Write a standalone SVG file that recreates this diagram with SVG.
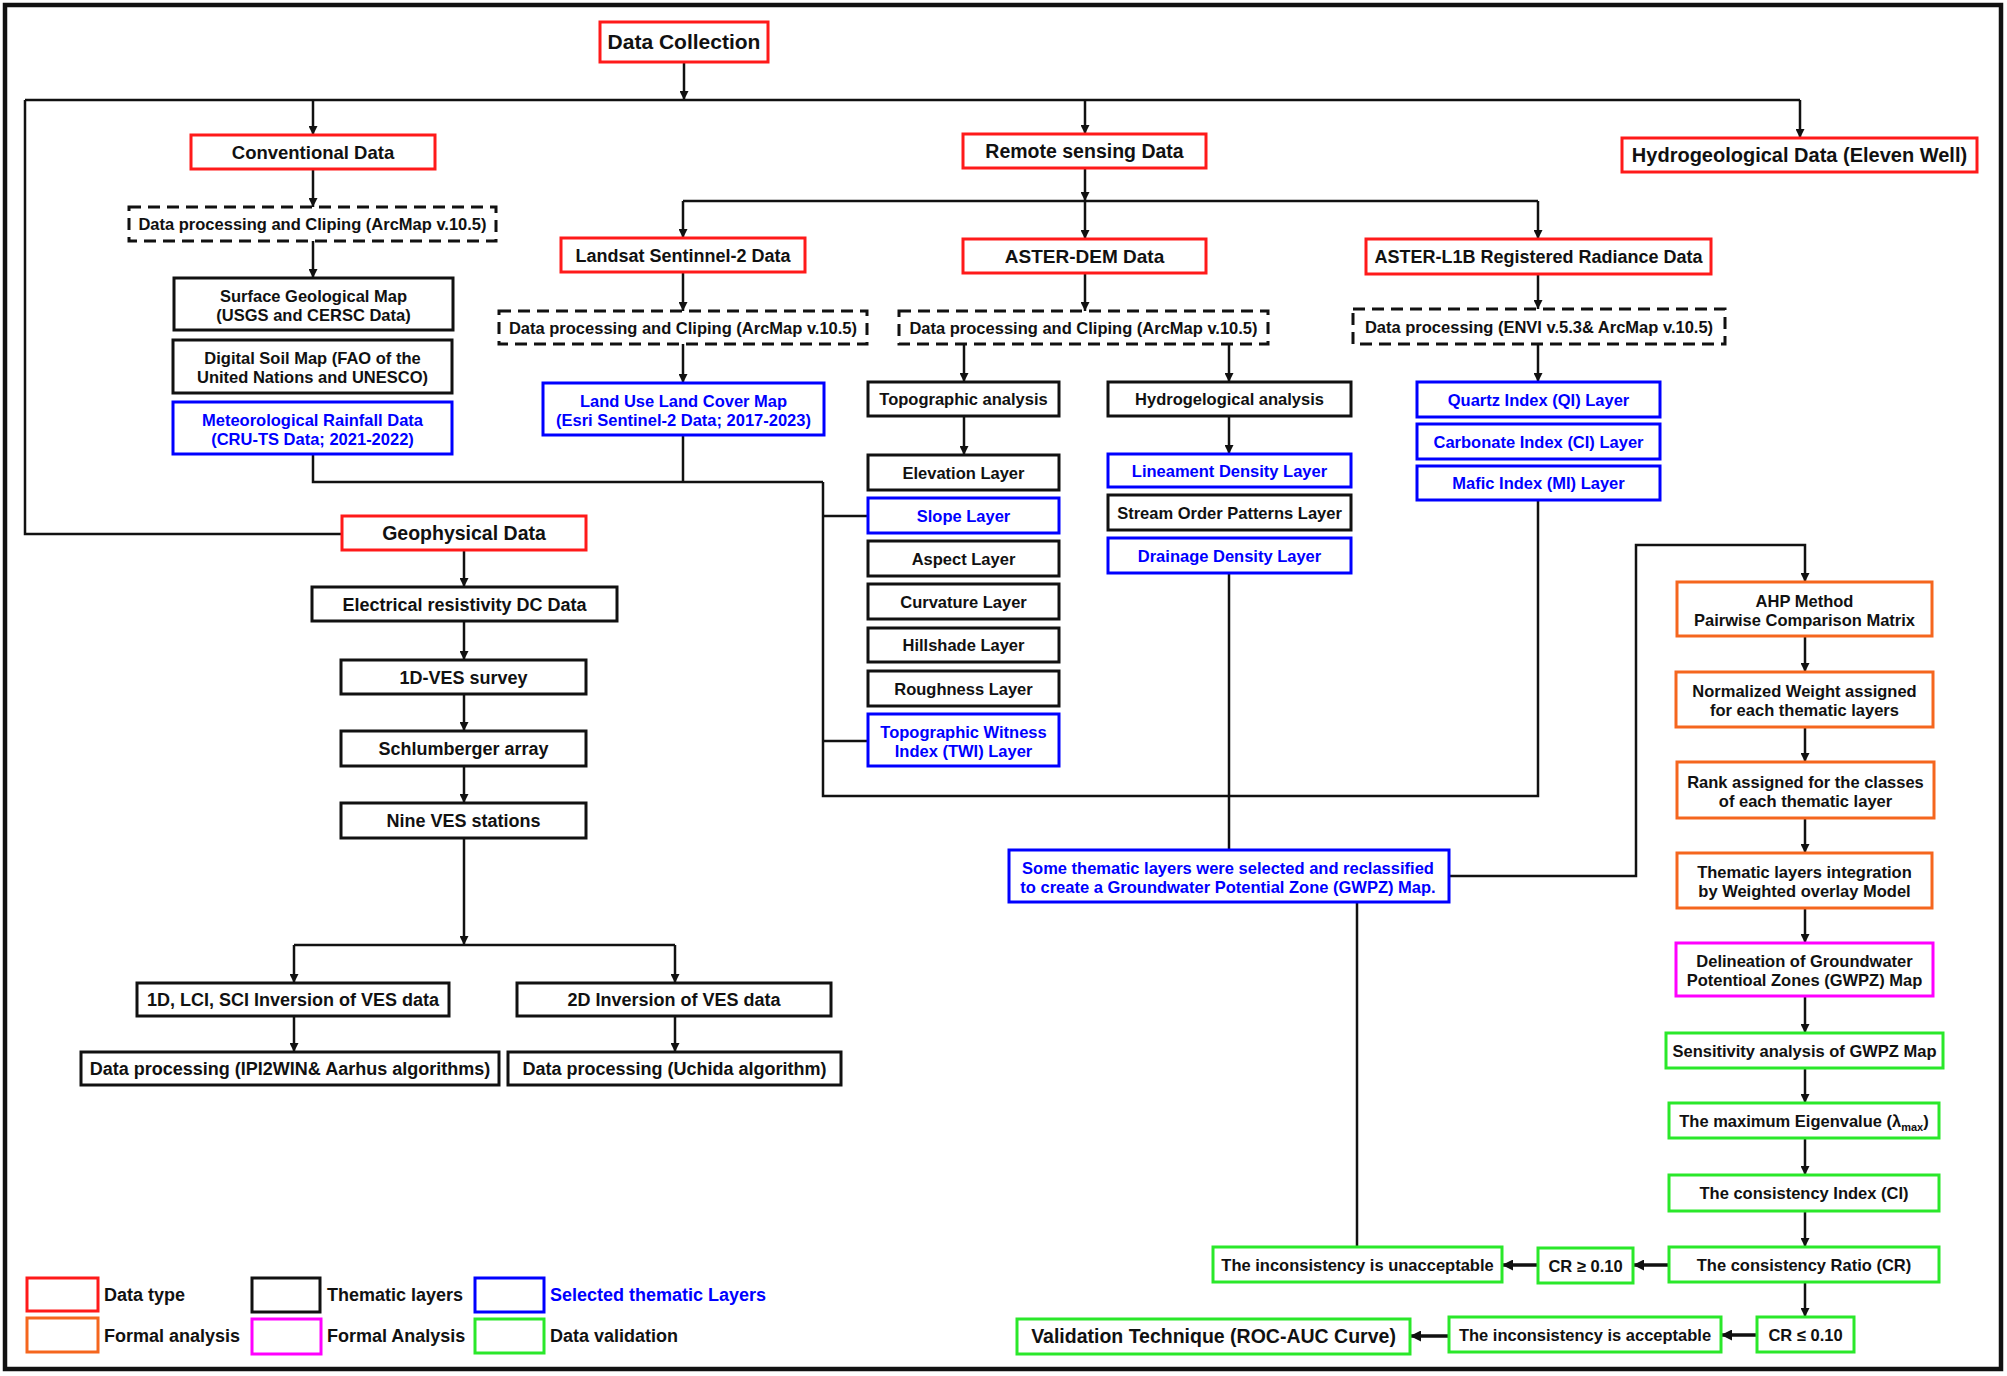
<svg xmlns="http://www.w3.org/2000/svg" width="2007" height="1376" viewBox="0 0 2007 1376">
<defs>
<style>
rect{fill:#fff;stroke-width:3}
.red{stroke:#ff1a1a}
.blk{stroke:#111}
.blu{stroke:#0000ff}
.org{stroke:#f5661e}
.mag{stroke:#ff00ff}
.grn{stroke:#2ae82a}
.dsh{stroke:#111;stroke-dasharray:12 7}
text{font-family:"Liberation Sans",Arial,sans-serif;font-weight:bold;text-anchor:middle;fill:#111;font-size:16.5px}
.tb{fill:#0000ff}
.lg{text-anchor:start;font-size:18px}
.f18{font-size:18px}
#connectors path{fill:none;stroke:#111;stroke-width:2.5}
#connectors path.thk{stroke-width:3.5}
</style>
<marker id="ah" viewBox="0 0 10 10" refX="10" refY="5" markerWidth="10" markerHeight="9" markerUnits="userSpaceOnUse" orient="auto"><path d="M0,0 L10,5 L0,10 z" fill="#111"/></marker>
<marker id="ah2" viewBox="0 0 10 10" refX="10" refY="5" markerWidth="12" markerHeight="11" markerUnits="userSpaceOnUse" orient="auto"><path d="M0,0 L10,5 L0,10 z" fill="#111"/></marker>
</defs>
<rect x="0" y="0" width="2007" height="1376" style="fill:#fff;stroke:none"/>
<rect x="5" y="5" width="1996" height="1364" style="fill:none;stroke:#111;stroke-width:4.5"/>

<g id="connectors">
<path d="M684,62 V100" marker-end="url(#ah)"/>
<path d="M25,100 H1800"/>
<path d="M25,100 V534 H342"/>
<path d="M313,100 V135" marker-end="url(#ah)"/>
<path d="M1085,100 V134" marker-end="url(#ah)"/>
<path d="M1800,100 V138" marker-end="url(#ah)"/>
<path d="M313,169 V207" marker-end="url(#ah)"/>
<path d="M313,241 V278" marker-end="url(#ah)"/>
<path d="M1085,168 V201" marker-end="url(#ah)"/>
<path d="M683,201 H1538"/>
<path d="M683,201 V238" marker-end="url(#ah)"/>
<path d="M1085,201 V239" marker-end="url(#ah)"/>
<path d="M1538,201 V239" marker-end="url(#ah)"/>
<path d="M683,272 V311" marker-end="url(#ah)"/>
<path d="M1085,273 V311" marker-end="url(#ah)"/>
<path d="M1538,274 V309" marker-end="url(#ah)"/>
<path d="M683,344 V383" marker-end="url(#ah)"/>
<path d="M964,344 V382" marker-end="url(#ah)"/>
<path d="M1229,344 V382" marker-end="url(#ah)"/>
<path d="M1538,344 V382" marker-end="url(#ah)"/>
<path d="M964,416 V455" marker-end="url(#ah)"/>
<path d="M1229,416 V454" marker-end="url(#ah)"/>
<path d="M313,454 V482 H823"/>
<path d="M683,435 V482"/>
<path d="M823,482 V796 H1538 V500"/>
<path d="M823,516 H868"/>
<path d="M823,741 H868"/>
<path d="M1229,573 V850"/>
<path d="M1449,876 H1636 V545 H1805 V582" marker-end="url(#ah)"/>
<path d="M1357,902 V1247"/>
<path d="M1805,636 V672" marker-end="url(#ah)"/>
<path d="M1805,727 V762" marker-end="url(#ah)"/>
<path d="M1805,818 V853" marker-end="url(#ah)"/>
<path d="M1805,908 V943" marker-end="url(#ah)"/>
<path d="M1805,996 V1033" marker-end="url(#ah)"/>
<path d="M1805,1068 V1103" marker-end="url(#ah)"/>
<path d="M1805,1138 V1175" marker-end="url(#ah)"/>
<path d="M1805,1211 V1247" marker-end="url(#ah)"/>
<path d="M1805,1282 V1317" marker-end="url(#ah)"/>
<path class="thk" d="M1669,1265 H1633" marker-end="url(#ah2)"/>
<path class="thk" d="M1538,1265 H1502" marker-end="url(#ah2)"/>
<path class="thk" d="M1757,1335 H1721" marker-end="url(#ah2)"/>
<path class="thk" d="M1449,1336 H1410" marker-end="url(#ah2)"/>
<path d="M464,550 V587" marker-end="url(#ah)"/>
<path d="M464,621 V660" marker-end="url(#ah)"/>
<path d="M464,694 V731" marker-end="url(#ah)"/>
<path d="M464,766 V803" marker-end="url(#ah)"/>
<path d="M464,838 V945" marker-end="url(#ah)"/>
<path d="M294,945 H675"/>
<path d="M294,945 V983" marker-end="url(#ah)"/>
<path d="M675,945 V983" marker-end="url(#ah)"/>
<path d="M294,1016 V1052" marker-end="url(#ah)"/>
<path d="M675,1016 V1052" marker-end="url(#ah)"/>
</g>

<g id="n-dc"><rect class="red" x="600" y="22" width="168" height="40"/><text x="684" y="49" style="font-size:21px">Data Collection</text></g>
<g id="n-conv"><rect class="red" x="191" y="135" width="244" height="34"/><text x="313" y="158.5" style="font-size:18.5px">Conventional Data</text></g>
<g id="n-rs"><rect class="red" x="963" y="134" width="243" height="34"/><text x="1084.5" y="158" style="font-size:19.5px">Remote sensing Data</text></g>
<g id="n-hydro"><rect class="red" x="1622" y="138" width="355" height="34"/><text x="1799.5" y="162" style="font-size:20px">Hydrogeological Data (Eleven Well)</text></g>
<g id="n-convdp"><rect class="dsh" x="129" y="207" width="367" height="34"/><text x="312.5" y="230">Data processing and Cliping (ArcMap v.10.5)</text></g>
<g id="n-surface"><rect class="blk" x="174" y="278" width="279" height="52"/><text x="313.5" y="301.5">Surface Geological Map</text><text x="313.5" y="320.5">(USGS and CERSC Data)</text></g>
<g id="n-soil"><rect class="blk" x="173" y="340" width="279" height="53"/><text x="312.5" y="364">Digital Soil Map (FAO of the</text><text x="312.5" y="383">United Nations and UNESCO)</text></g>
<g id="n-rain"><rect class="blu" x="173" y="402" width="279" height="52"/><text class="tb" x="312.5" y="425.5">Meteorological Rainfall Data</text><text class="tb" x="312.5" y="444.5">(CRU-TS Data; 2021-2022)</text></g>
<g id="n-landsat"><rect class="red" x="561" y="238" width="244" height="34"/><text class="f18" x="683" y="261.5">Landsat Sentinnel-2 Data</text></g>
<g id="n-dem"><rect class="red" x="963" y="239" width="243" height="34"/><text x="1084.5" y="262.5" style="font-size:19px">ASTER-DEM Data</text></g>
<g id="n-l1b"><rect class="red" x="1366" y="239" width="345" height="35"/><text class="f18" x="1538.5" y="263">ASTER-L1B Registered Radiance Data</text></g>
<g id="n-landsatdp"><rect class="dsh" x="499" y="311" width="368" height="33"/><text x="683" y="333.5">Data processing and Cliping (ArcMap v.10.5)</text></g>
<g id="n-demdp"><rect class="dsh" x="899" y="311" width="369" height="33"/><text x="1083.5" y="333.5">Data processing and Cliping (ArcMap v.10.5)</text></g>
<g id="n-l1bdp"><rect class="dsh" x="1353" y="309" width="372" height="35"/><text x="1539" y="332.5">Data processing (ENVI v.5.3&amp; ArcMap v.10.5)</text></g>
<g id="n-lulc"><rect class="blu" x="543" y="383" width="281" height="52"/><text class="tb" x="683.5" y="406.5">Land Use Land Cover Map</text><text class="tb" x="683.5" y="425.5">(Esri Sentinel-2 Data; 2017-2023)</text></g>
<g id="n-topo"><rect class="blk" x="868" y="382" width="191" height="34"/><text x="963.5" y="405">Topographic analysis</text></g>
<g id="n-hydroan"><rect class="blk" x="1108" y="382" width="243" height="34"/><text x="1229.5" y="405">Hydrogelogical analysis</text></g>
<g id="n-quartz"><rect class="blu" x="1417" y="382" width="243" height="35"/><text class="tb" x="1538.5" y="405.5">Quartz Index (QI) Layer</text></g>
<g id="n-carb"><rect class="blu" x="1417" y="424" width="243" height="35"/><text class="tb" x="1538.5" y="447.5">Carbonate Index (CI) Layer</text></g>
<g id="n-mafic"><rect class="blu" x="1417" y="466" width="243" height="34"/><text class="tb" x="1538.5" y="489">Mafic Index (MI) Layer</text></g>
<g id="n-elev"><rect class="blk" x="868" y="455" width="191" height="35"/><text x="963.5" y="478.5">Elevation Layer</text></g>
<g id="n-slope"><rect class="blu" x="868" y="498" width="191" height="35"/><text class="tb" x="963.5" y="521.5">Slope Layer</text></g>
<g id="n-aspect"><rect class="blk" x="868" y="541" width="191" height="35"/><text x="963.5" y="564.5">Aspect Layer</text></g>
<g id="n-curv"><rect class="blk" x="868" y="584" width="191" height="35"/><text x="963.5" y="607.5">Curvature Layer</text></g>
<g id="n-hill"><rect class="blk" x="868" y="628" width="191" height="34"/><text x="963.5" y="651">Hillshade Layer</text></g>
<g id="n-rough"><rect class="blk" x="868" y="671" width="191" height="35"/><text x="963.5" y="694.5">Roughness Layer</text></g>
<g id="n-twi"><rect class="blu" x="868" y="714" width="191" height="52"/><text class="tb" x="963.5" y="737.5">Topographic Witness</text><text class="tb" x="963.5" y="756.5">Index (TWI) Layer</text></g>
<g id="n-linea"><rect class="blu" x="1108" y="454" width="243" height="33"/><text class="tb" x="1229.5" y="476.5">Lineament Density Layer</text></g>
<g id="n-stream"><rect class="blk" x="1108" y="495" width="243" height="35"/><text x="1229.5" y="518.5">Stream Order Patterns Layer</text></g>
<g id="n-drain"><rect class="blu" x="1108" y="538" width="243" height="35"/><text class="tb" x="1229.5" y="561.5">Drainage Density Layer</text></g>
<g id="n-some"><rect class="blu" x="1009" y="850" width="440" height="52"/><text class="tb" x="1228" y="873.5">Some thematic layers were selected and reclassified</text><text class="tb" x="1228" y="892.5">to create a Groundwater Potential Zone (GWPZ) Map.</text></g>
<g id="n-ahp"><rect class="org" x="1677" y="582" width="255" height="54"/><text x="1804.5" y="606.5">AHP Method</text><text x="1804.5" y="625.5">Pairwise Comparison Matrix</text></g>
<g id="n-norm"><rect class="org" x="1676" y="672" width="257" height="55"/><text x="1804.5" y="697">Normalized Weight assigned</text><text x="1804.5" y="716">for each thematic layers</text></g>
<g id="n-rank"><rect class="org" x="1677" y="762" width="257" height="56"/><text x="1805.5" y="787.5">Rank assigned for the classes</text><text x="1805.5" y="806.5">of each thematic layer</text></g>
<g id="n-integ"><rect class="org" x="1677" y="853" width="255" height="55"/><text x="1804.5" y="878">Thematic layers integration</text><text x="1804.5" y="897">by Weighted overlay Model</text></g>
<g id="n-delin"><rect class="mag" x="1676" y="943" width="257" height="53"/><text x="1804.5" y="967">Delineation of Groundwater</text><text x="1804.5" y="986">Potentioal Zones (GWPZ) Map</text></g>
<g id="n-sens"><rect class="grn" x="1666" y="1033" width="277" height="35"/><text x="1804.5" y="1056.5">Sensitivity analysis of GWPZ Map</text></g>
<g id="n-eigen"><rect class="grn" x="1669" y="1103" width="270" height="35"/><text x="1804" y="1126.5">The maximum Eigenvalue (λ<tspan dy="4" style="font-size:11px">max</tspan><tspan dy="-4">)</tspan></text></g>
<g id="n-ci"><rect class="grn" x="1669" y="1175" width="270" height="36"/><text x="1804" y="1199">The consistency Index (CI)</text></g>
<g id="n-cr"><rect class="grn" x="1669" y="1247" width="270" height="35"/><text x="1804" y="1270.5">The consistency Ratio (CR)</text></g>
<g id="n-crge"><rect class="grn" x="1538" y="1248" width="95" height="35"/><text x="1585.5" y="1271.5">CR ≥ 0.10</text></g>
<g id="n-unacc"><rect class="grn" x="1213" y="1247" width="289" height="35"/><text x="1357.5" y="1270.5">The inconsistency is unacceptable</text></g>
<g id="n-crle"><rect class="grn" x="1757" y="1317" width="97" height="35"/><text x="1805.5" y="1340.5">CR ≤ 0.10</text></g>
<g id="n-acc"><rect class="grn" x="1449" y="1317" width="272" height="35"/><text x="1585" y="1340.5">The inconsistency is acceptable</text></g>
<g id="n-valid"><rect class="grn" x="1017" y="1319" width="393" height="35"/><text x="1213.5" y="1343" style="font-size:19.5px">Validation Technique (ROC-AUC Curve)</text></g>
<g id="n-geo"><rect class="red" x="342" y="516" width="244" height="34"/><text x="464" y="540" style="font-size:19.5px">Geophysical Data</text></g>
<g id="n-elec"><rect class="blk" x="312" y="587" width="305" height="34"/><text class="f18" x="464.5" y="610.5">Electrical resistivity DC Data</text></g>
<g id="n-ves1d"><rect class="blk" x="341" y="660" width="245" height="34"/><text class="f18" x="463.5" y="683.5">1D-VES survey</text></g>
<g id="n-schl"><rect class="blk" x="341" y="731" width="245" height="35"/><text class="f18" x="463.5" y="755">Schlumberger array</text></g>
<g id="n-nine"><rect class="blk" x="341" y="803" width="245" height="35"/><text class="f18" x="463.5" y="827">Nine VES stations</text></g>
<g id="n-inv1d"><rect class="blk" x="137" y="983" width="312" height="33"/><text class="f18" x="293" y="1006">1D, LCI, SCI Inversion of VES data</text></g>
<g id="n-inv2d"><rect class="blk" x="517" y="983" width="314" height="33"/><text class="f18" x="674" y="1006">2D Inversion of VES data</text></g>
<g id="n-dp1"><rect class="blk" x="81" y="1052" width="418" height="33"/><text class="f18" x="290" y="1075">Data processing (IPI2WIN&amp; Aarhus algorithms)</text></g>
<g id="n-dp2"><rect class="blk" x="508" y="1052" width="333" height="33"/><text class="f18" x="674.5" y="1075">Data processing (Uchida algorithm)</text></g>

<g id="legend">
<rect class="red" x="27" y="1278" width="71" height="33"/><text class="lg" x="104" y="1301">Data type</text>
<rect class="blk" x="252" y="1278" width="68" height="34"/><text class="lg" x="327" y="1301">Thematic layers</text>
<rect class="blu" x="475" y="1278" width="69" height="34"/><text class="lg tb" x="550" y="1301">Selected thematic Layers</text>
<rect class="org" x="27" y="1318" width="71" height="34"/><text class="lg" x="104" y="1342">Formal analysis</text>
<rect class="mag" x="252" y="1319" width="69" height="35"/><text class="lg" x="327" y="1342">Formal Analysis</text>
<rect class="grn" x="475" y="1319" width="69" height="34"/><text class="lg" x="550" y="1342">Data validation</text>
</g>
</svg>
